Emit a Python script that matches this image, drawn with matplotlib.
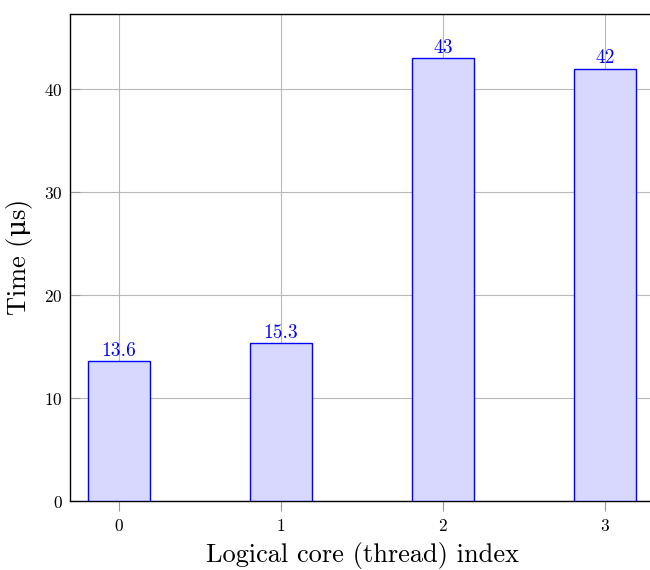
import matplotlib
matplotlib.use("Agg")
import matplotlib.pyplot as plt
import numpy as np

# data
cores = [0, 1, 2, 3]
times = [13.6, 15.3, 43, 42]
labels = ["13.6", "15.3", "43", "42"]

plt.rcParams['font.family'] = ['cmr10', 'DejaVu Serif']
plt.rcParams['axes.formatter.use_mathtext'] = True
plt.rcParams['mathtext.fontset'] = 'custom'
plt.rcParams['mathtext.rm'] = 'DejaVu Serif'

fig = plt.figure(figsize=(6.5, 5.7), dpi=100)
# axes runs slightly past the right edge like the reference crop
ax = fig.add_axes([70/650, 1 - 501/570, 584/650, 487/570])

ax.bar(cores, times, width=0.38, color='#d8d8ff', edgecolor='blue', linewidth=1.0, zorder=3)
for c, t, lab in zip(cores, times, labels):
    ax.annotate(lab, (c, t), xytext=(0, 1.0), textcoords='offset points',
                ha='center', va='bottom', color='blue', fontsize=14)

ax.set_xlim(-0.302, 3.302)
ax.set_ylim(0, 47.3)
ax.set_xticks(cores)
ax.set_yticks([0, 10, 20, 30, 40])
ax.grid(True, color='#b8b8b8', linewidth=0.8, zorder=0)
ax.set_axisbelow(True)

ax.tick_params(axis='y', direction='in', length=7, color='#999999', labelsize=12.5, pad=5)
ax.tick_params(axis='x', direction='out', length=7, color='#999999', labelsize=12.5, pad=5)

for s in ax.spines.values():
    s.set_linewidth(1.0)

ax.set_xlabel('Logical core (thread) index', fontsize=19, labelpad=6)
ax.set_ylabel(r'Time ($\mathrm{\mu}$s)', fontsize=19, labelpad=7)

fig.savefig('out.png', dpi=100)
